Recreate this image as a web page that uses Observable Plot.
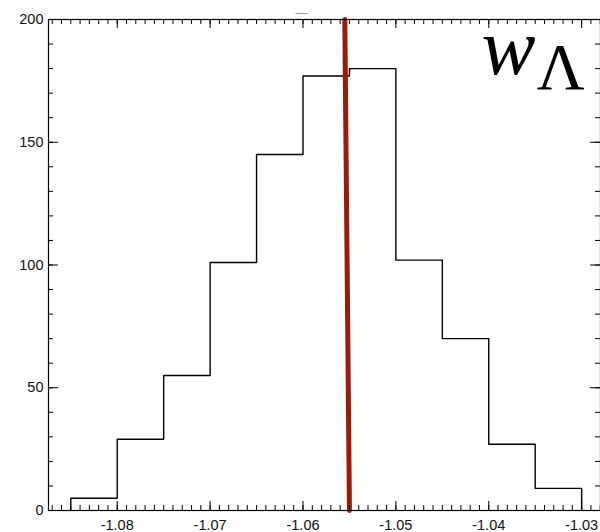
<!DOCTYPE html>
<html>
<head>
<meta charset="utf-8">
<script src="https://cdn.jsdelivr.net/npm/d3@7"></script>
<script src="https://cdn.jsdelivr.net/npm/@observablehq/plot@0.6"></script>
<style>
  html, body { margin: 0; padding: 0; background: #fff; }
  #chart svg { display: block; }
</style>
</head>
<body>
<div id="chart"></div>
<script>
// Histogram bin edges and counts
const binEdges = [-1.085, -1.08, -1.075, -1.07, -1.065, -1.06, -1.055, -1.05, -1.045, -1.04, -1.035, -1.03];
const counts = [5, 29, 55, 101, 145, 177, 180, 102, 70, 27, 9];

// Reference marker line (red)
const markerX = [-1.0555, -1.0550];
const markerY = [200, 0];

// Axis ticks
const xTicks = [-1.08, -1.07, -1.06, -1.05, -1.04, -1.03];
const yTicks = [0, 50, 100, 150, 200];
const xMinor = d3.range(-1087, -1027).map(i => i / 1000);
const yMinor = d3.range(0, 201, 10);

const xDomain = [-1.0874, -1.02797];
const yDomain = [0, 200];

// Step outline points
const stepPts = [{x: binEdges[0], y: 0}]
  .concat(counts.map((c, i) => ({x: binEdges[i], y: c})))
  .concat([{x: binEdges[binEdges.length - 1], y: 0}]);
const markerPts = markerX.map((x, i) => ({x, y: markerY[i]}));

const W = 600, H = 532, mL = 48, mR = 0, mT = 19, mB = 22;
const innerW = W - mL - mR, innerH = H - mT - mB;

const chart = Plot.plot({
  width: W, height: H,
  marginLeft: mL, marginRight: mR, marginTop: mT, marginBottom: mB,
  x: {domain: xDomain},
  y: {domain: yDomain},
  style: {fontFamily: "'Liberation Sans', Arial, Helvetica, sans-serif", fontSize: "14.5px", color: "#111", background: "#fff"},
  marks: [
    Plot.line(stepPts, {x: "x", y: "y", curve: "step-after", stroke: "#000", strokeWidth: 1.4}),
    Plot.line(markerPts, {x: "x", y: "y", stroke: "#9a1a0c", strokeWidth: 5}),
    // bottom ticks
    Plot.tickX(xMinor, {x: d => d, insetTop: innerH - 5, stroke: "#000"}),
    Plot.tickX(xTicks, {x: d => d, insetTop: innerH - 9, stroke: "#000"}),
    // top ticks
    Plot.tickX(xMinor, {x: d => d, insetBottom: innerH - 5, stroke: "#000"}),
    Plot.tickX(xTicks, {x: d => d, insetBottom: innerH - 9, stroke: "#000"}),
    // left ticks
    Plot.tickY(yMinor, {y: d => d, insetRight: innerW - 5, stroke: "#000"}),
    Plot.tickY(yTicks, {y: d => d, insetRight: innerW - 10, stroke: "#000"}),
    // right ticks
    Plot.tickY(yMinor, {y: d => d, insetLeft: innerW - 5, stroke: "#000"}),
    Plot.tickY(yTicks, {y: d => d, insetLeft: innerW - 10, stroke: "#000"}),
    Plot.frame({stroke: "#000", strokeWidth: 1.2}),
    Plot.axisX(xTicks, {anchor: "bottom", tickSize: 0, tickPadding: 9, tickFormat: d => d.toFixed(2), label: null}),
    Plot.axisY(yTicks, {anchor: "left", tickSize: 0, tickPadding: 5, tickFormat: d => String(d), label: null}),
    // w_Lambda label
    Plot.text(["w"], {frameAnchor: "top-right", dx: -65, dy: 54, textAnchor: "end", lineAnchor: "bottom",
      fontFamily: "'Liberation Serif', 'DejaVu Serif', serif", fontStyle: "italic", fontSize: 81, fill: "#000"}),
    Plot.text(["Λ"], {frameAnchor: "top-right", dx: -16, dy: 69, textAnchor: "end", lineAnchor: "bottom",
      fontFamily: "'Liberation Serif', 'DejaVu Serif', serif", fontSize: 66, fill: "#000"}),
    // faint title remnant
    Plot.text(["—"], {frameAnchor: "top", dx: -23, dy: -6, lineAnchor: "middle", fontSize: 12, fill: "#999"})
  ]
});
document.getElementById("chart").appendChild(chart);
</script>
</body>
</html>
